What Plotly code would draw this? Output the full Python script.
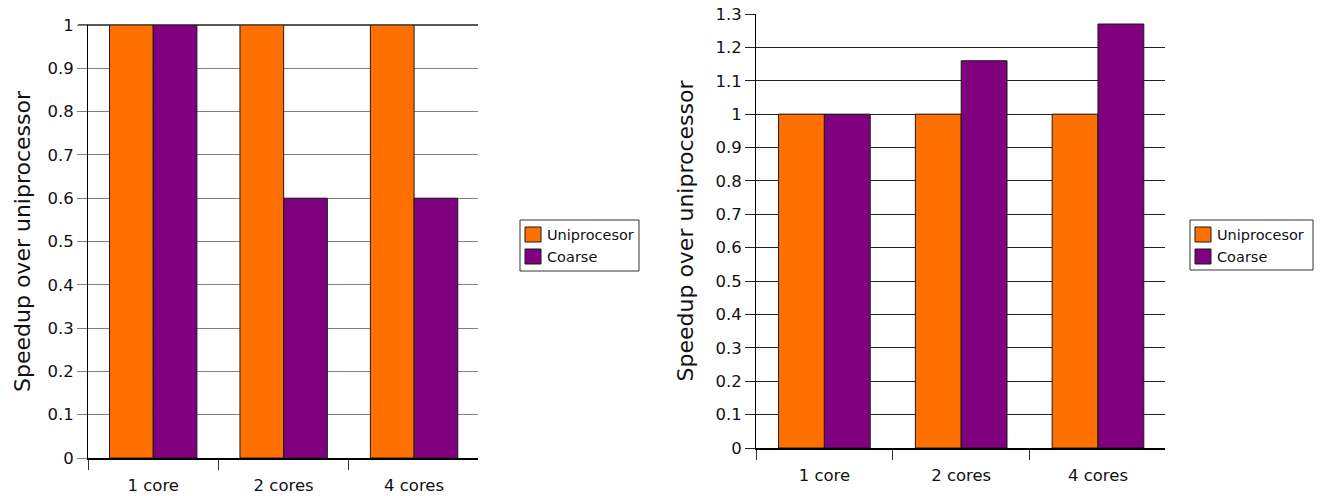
import plotly.graph_objects as go

# Speedup data for the two configurations
categories = ["1 core", "2 cores", "4 cores"]
series_names = ["Uniprocesor", "Coarse"]
left_uniprocesor = [1.0, 1.0, 1.0]
left_coarse = [1.0, 0.6, 0.6]
right_uniprocesor = [1.0, 1.0, 1.0]
right_coarse = [1.0, 1.16, 1.27]
left_ticks = [0, 0.1, 0.2, 0.3, 0.4, 0.5, 0.6, 0.7, 0.8, 0.9, 1]
right_ticks = [0, 0.1, 0.2, 0.3, 0.4, 0.5, 0.6, 0.7, 0.8, 0.9, 1, 1.1, 1.2, 1.3]

ORANGE = "#ff7000"
PURPLE = "#800080"
COLORS = [ORANGE, PURPLE]
EDGE = "#1a1a1a"
FONT = "DejaVu Sans"
TXT = "#111"
W, H = 1323, 496


def px(x):
    return x / W


def py(y):
    return 1 - y / H


fig = go.Figure()


def add_pair(uni, coarse, xa, ya):
    for name, vals, col in zip(series_names, [uni, coarse], COLORS):
        fig.add_trace(go.Bar(x=categories, y=vals, name=name, xaxis=xa, yaxis=ya,
                             marker=dict(color=col, line=dict(color=EDGE, width=1)),
                             showlegend=False))


add_pair(left_uniprocesor, left_coarse, "x", "y")
add_pair(right_uniprocesor, right_coarse, "x2", "y2")


def xaxis(domain, anchor):
    return dict(domain=domain, anchor=anchor, type="category", range=[-0.5, 2.49],
                tickson="boundaries", ticks="outside", ticklen=10, tickcolor="#333",
                ticklabelstandoff=11, automargin=False,
                showline=True, linecolor="#000", linewidth=1.5, showgrid=False,
                tickfont=dict(family=FONT, size=16.5, color=TXT))


def yaxis(domain, anchor, ticks, top, gridcolor, standoff):
    return dict(domain=domain, anchor=anchor, range=[0, top], tickvals=ticks,
                ticks="outside", ticklen=10, tickcolor=gridcolor, automargin=False,
                showgrid=True, gridcolor=gridcolor, gridwidth=1, zeroline=False,
                showline=True, linecolor="#000", linewidth=1,
                tickfont=dict(family=FONT, size=16.5, color=TXT),
                title=dict(text="Speedup over uniprocessor", standoff=standoff,
                           font=dict(family=FONT, size=22, color=TXT)))


shapes = []
annotations = []

# Dark border along the top of the left plot area
shapes.append(dict(type="line", xref="x domain", yref="y domain",
                   x0=-10 / 390, x1=1, y0=1, y1=1,
                   line=dict(color="#222", width=1.5), layer="below"))


# Boxed legend beside each chart
def add_legend(left, top, width, height):
    shapes.append(dict(type="rect", xref="paper", yref="paper",
                       x0=px(left), x1=px(left + width), y0=py(top + height), y1=py(top),
                       line=dict(color="#333", width=1), fillcolor="white", layer="above"))
    for i, (name, col) in enumerate(zip(series_names, COLORS)):
        sy = top + 7 + i * 22
        shapes.append(dict(type="rect", xref="paper", yref="paper",
                           x0=px(left + 5), x1=px(left + 21), y0=py(sy + 15), y1=py(sy),
                           line=dict(color=EDGE, width=1), fillcolor=col, layer="above"))
        annotations.append(dict(text=name, xref="paper", yref="paper",
                                x=px(left + 25), y=py(sy + 7.5), xanchor="left",
                                yanchor="middle", showarrow=False,
                                font=dict(family=FONT, size=14.5, color=TXT)))


add_legend(520, 220, 119, 51)
add_legend(1190, 220, 123, 50)

fig.update_layout(
    width=W, height=H,
    margin=dict(l=0, r=0, t=0, b=0),
    paper_bgcolor="white", plot_bgcolor="white",
    barmode="group", bargap=0.33, bargroupgap=0,
    font=dict(family=FONT, color=TXT),
    showlegend=False,
    xaxis=xaxis([px(88), px(478)], "y"),
    yaxis=yaxis([py(458), py(25)], "x", left_ticks, 1.0, "#808080", 10),
    xaxis2=xaxis([px(756), px(1165)], "y2"),
    yaxis2=yaxis([py(448), py(14)], "x2", right_ticks, 1.3, "#222", 15),
    shapes=shapes,
    annotations=annotations,
)

fig.write_html("out.html")
